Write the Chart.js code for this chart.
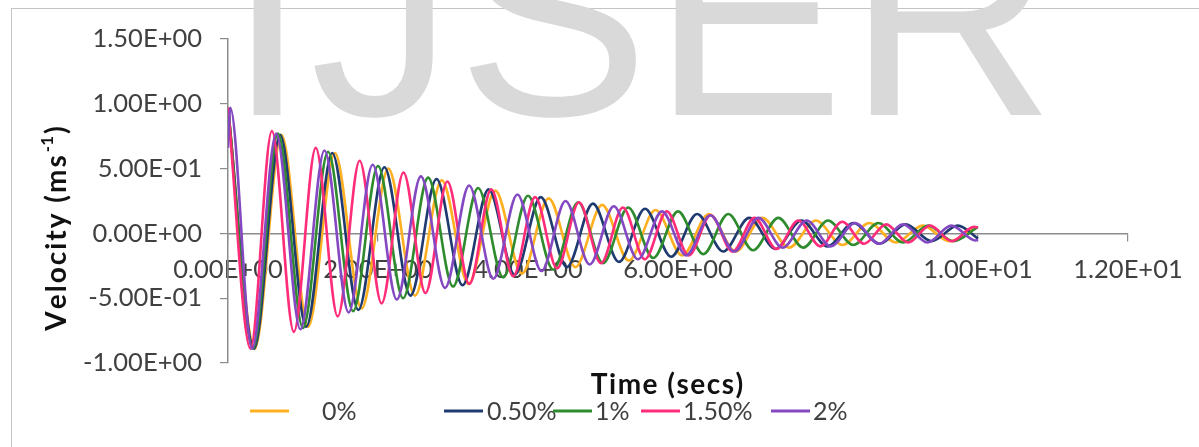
<!DOCTYPE html>
<html>
<head>
<meta charset="utf-8">
<script src="https://cdn.jsdelivr.net/npm/chart.js@4.4.0/dist/chart.umd.min.js"></script>
<style>
html, body { margin: 0; padding: 0; background: #fff; }
#quadro { position: relative; width: 1199px; height: 447px; overflow: hidden; }
#moldura { position: absolute; left: 11px; top: 8px; width: 1400px; height: 800px; border: 1px solid #c4c4c4; }
#grafico { position: absolute; left: 0; top: 0; }
</style>
</head>
<body>
<div id="quadro">
  <div id="moldura"></div>
  <canvas id="grafico" width="1199" height="447"></canvas>
</div>
<script>
// valores (picos e vales de cada curva)
var tempo0 = [0, 0.356, 0.713, 1.069, 1.425, 1.781, 2.138, 2.494, 2.85, 3.206, 3.563, 3.919, 4.275, 4.631, 4.988, 5.344, 5.7, 6.056, 6.413, 6.769, 7.125, 7.481, 7.838, 8.194, 8.55, 8.906, 9.263, 9.619, 9.975];
var vel0 = [0.97, -0.89, 0.76, -0.72, 0.62, -0.58, 0.50, -0.48, 0.41, -0.39, 0.33, -0.31, 0.27, -0.26, 0.22, -0.21, 0.18, -0.17, 0.15, -0.14, 0.12, -0.11, 0.10, -0.09, 0.08, -0.07, 0.06, -0.06, 0.05];

var tempo05 = [0, 0.348, 0.695, 1.043, 1.39, 1.738, 2.085, 2.433, 2.78, 3.128, 3.475, 3.823, 4.17, 4.518, 4.865, 5.213, 5.56, 5.908, 6.255, 6.603, 6.95, 7.298, 7.645, 7.993, 8.34, 8.688, 9.035, 9.383, 9.73, 10.0];
var vel05 = [0.97, -0.89, 0.76, -0.72, 0.62, -0.59, 0.51, -0.48, 0.42, -0.40, 0.34, -0.32, 0.28, -0.26, 0.23, -0.22, 0.19, -0.18, 0.15, -0.14, 0.12, -0.12, 0.10, -0.10, 0.08, -0.08, 0.07, -0.06, 0.06, -0.04];

var tempo1 = [0, 0.334, 0.667, 1.0, 1.334, 1.668, 2.0, 2.335, 2.668, 3.0, 3.335, 3.669, 4.0, 4.336, 4.669, 5.0, 5.336, 5.67, 6.0, 6.337, 6.67, 7.0, 7.337, 7.67, 8.0, 8.338, 8.671, 9.0, 9.338, 9.67, 10.0];
var vel1 = [0.97, -0.89, 0.77, -0.73, 0.63, -0.60, 0.52, -0.50, 0.43, -0.41, 0.35, -0.34, 0.29, -0.28, 0.24, -0.23, 0.20, -0.19, 0.17, -0.16, 0.15, -0.13, 0.12, -0.11, 0.10, -0.09, 0.08, -0.07, 0.06, -0.06, 0.05];

var tempo15 = [0, 0.30, 0.585, 0.878, 1.17, 1.463, 1.755, 2.048, 2.34, 2.633, 2.925, 3.218, 3.51, 3.803, 4.095, 4.388, 4.68, 4.973, 5.265, 5.558, 5.85, 6.143, 6.435, 6.728, 7.02, 7.313, 7.605, 7.898, 8.19, 8.483, 8.775, 9.068, 9.36, 9.653, 9.945, 10.0];
var vel15 = [0.97, -0.89, 0.79, -0.76, 0.66, -0.64, 0.56, -0.54, 0.47, -0.46, 0.40, -0.39, 0.34, -0.33, 0.28, -0.27, 0.24, -0.23, 0.20, -0.20, 0.17, -0.17, 0.14, -0.14, 0.12, -0.12, 0.10, -0.10, 0.09, -0.08, 0.07, -0.07, 0.06, -0.06, 0.05, 0.045];

var tempo2 = [0, 0.03, 0.322, 0.643, 0.965, 1.286, 1.608, 1.929, 2.251, 2.572, 2.894, 3.215, 3.537, 3.858, 4.18, 4.501, 4.823, 5.144, 5.466, 5.787, 6.109, 6.43, 6.752, 7.073, 7.395, 7.716, 8.038, 8.359, 8.681, 9.002, 9.324, 9.645, 9.967, 10.0];
var vel2 = [0.66, 0.97, -0.89, 0.77, -0.74, 0.64, -0.61, 0.53, -0.51, 0.44, -0.42, 0.37, -0.35, 0.30, -0.29, 0.25, -0.24, 0.21, -0.20, 0.17, -0.17, 0.14, -0.14, 0.12, -0.11, 0.10, -0.10, 0.08, -0.08, 0.07, -0.07, 0.06, -0.055, -0.05];

var nomesSeries = ['0%', '0.50%', '1%', '1.50%', '2%'];
var coresSeries = ['#FFB020', '#1F3A70', '#2E8B2E', '#FF2C7A', '#8448C2'];

var fonteTicks = 'Lato, "Open Sans", sans-serif';

function pontos(tempos, vels) {
    var lista = [];
    for (var i = 0; i < tempos.length; i++) {
        lista.push({ x: tempos[i], y: vels[i] });
    }
    return lista;
}

function formatarExp(v) {
    if (Math.abs(v) < 1e-9) return '0.00E+00';
    var exp = Math.floor(Math.log10(Math.abs(v)) + 1e-9);
    var mant = (v / Math.pow(10, exp)).toFixed(2);
    return mant + 'E' + (exp < 0 ? '-' : '+') + (Math.abs(exp) < 10 ? '0' : '') + Math.abs(exp);
}

var todosTempos = [tempo0, tempo05, tempo1, tempo15, tempo2];
var todasVels = [vel0, vel05, vel1, vel15, vel2];

// a ultima serie fica por cima, como no Excel
var datasets = [];
for (var i = todosTempos.length - 1; i >= 0; i--) {
    datasets.push({
        label: nomesSeries[i],
        data: pontos(todosTempos[i], todasVels[i]),
        borderColor: coresSeries[i],
        backgroundColor: coresSeries[i],
        borderWidth: 2.6,
        pointRadius: 0,
        fill: false,
        cubicInterpolationMode: 'monotone'
    });
}

// texto com espacamento extra entre letras
function larguraEspacada(ctx, texto, espaco) {
    var w = 0;
    for (var i = 0; i < texto.length; i++) w += ctx.measureText(texto[i]).width + espaco;
    return w - espaco;
}
function textoEspacado(ctx, texto, x, y, espaco) {
    for (var i = 0; i < texto.length; i++) {
        ctx.fillText(texto[i], x, y);
        x += ctx.measureText(texto[i]).width + espaco;
    }
    return x;
}

var extras = {
    id: 'extras',
    beforeDraw: function (chart) {
        var ctx = chart.ctx;
        ctx.save();
        ctx.fillStyle = '#d9d9d9';
        ctx.font = '288px "Liberation Sans", Arial, sans-serif';
        ctx.textBaseline = 'alphabetic';
        ctx.textAlign = 'left';
        textoEspacado(ctx, 'IJSER', 227, 115, 3);
        ctx.restore();
    },
    afterDraw: function (chart) {
        var ctx = chart.ctx;
        ctx.save();
        ctx.fillStyle = '#111';
        // titulo do eixo y, com expoente
        ctx.translate(57, 229);
        ctx.rotate(-Math.PI / 2);
        ctx.textBaseline = 'middle';
        ctx.textAlign = 'left';
        var grande = 'bold 28px Lato, sans-serif', pequeno = 'bold 17px Lato, sans-serif';
        ctx.font = grande;
        var w1 = larguraEspacada(ctx, 'Velocity (ms', 2), w3 = ctx.measureText(')').width;
        ctx.font = pequeno;
        var w2 = ctx.measureText('-1').width;
        var x = -(w1 + w2 + w3 + 4) / 2;
        ctx.font = grande;
        x = textoEspacado(ctx, 'Velocity (ms', x, 0, 2) + 1;
        ctx.font = pequeno;
        ctx.fillText('-1', x, -9);
        ctx.font = grande;
        ctx.fillText(')', x + w2 + 2, 0);
        ctx.restore();

        // titulo do eixo x
        ctx.save();
        ctx.fillStyle = '#111';
        ctx.font = 'bold 28px Lato, sans-serif';
        ctx.textAlign = 'left';
        ctx.textBaseline = 'middle';
        var wt = larguraEspacada(ctx, 'Time (secs)', 1.5);
        textoEspacado(ctx, 'Time (secs)', 667 - wt / 2, 385, 1.5);
        ctx.restore();

        // legenda
        var posLinha = [250, 444, 553, 641, 771];
        var posTexto = [322, 487, 595, 683, 813];
        ctx.save();
        ctx.font = '25px ' + fonteTicks;
        ctx.textBaseline = 'middle';
        ctx.textAlign = 'left';
        for (var k = 0; k < nomesSeries.length; k++) {
            ctx.strokeStyle = coresSeries[k];
            ctx.lineWidth = 3;
            ctx.beginPath();
            ctx.moveTo(posLinha[k], 411);
            ctx.lineTo(posLinha[k] + 39, 411);
            ctx.stroke();
            ctx.fillStyle = '#404040';
            ctx.fillText(nomesSeries[k], posTexto[k], 412);
        }
        ctx.restore();
    }
};

new Chart(document.getElementById('grafico'), {
    type: 'line',
    data: { datasets: datasets },
    options: {
        responsive: false,
        animation: false,
        layout: { padding: { left: 20, top: 39, right: 71, bottom: 84 } },
        plugins: { legend: { display: false }, tooltip: { enabled: false } },
        scales: {
            x: {
                type: 'linear',
                min: 0,
                max: 12,
                position: { y: 0 },
                ticks: { stepSize: 2, callback: formatarExp, maxRotation: 0, padding: 14, color: '#404040', font: { family: fonteTicks, size: 25.5 } },
                grid: { drawOnChartArea: false, tickLength: 7, color: '#8c8c8c', lineWidth: 1.2 },
                border: { color: '#8c8c8c', width: 1.5 }
            },
            y: {
                min: -1,
                max: 1.5,
                ticks: { stepSize: 0.5, callback: formatarExp, padding: 18, color: '#404040', font: { family: fonteTicks, size: 25.5 } },
                grid: { drawOnChartArea: false, tickLength: 8, color: '#8c8c8c', lineWidth: 1.2 },
                border: { color: '#8c8c8c', width: 1.5 },
                afterFit: function (escala) { escala.width = 208; }
            }
        }
    },
    plugins: [extras]
});
</script>
</body>
</html>
